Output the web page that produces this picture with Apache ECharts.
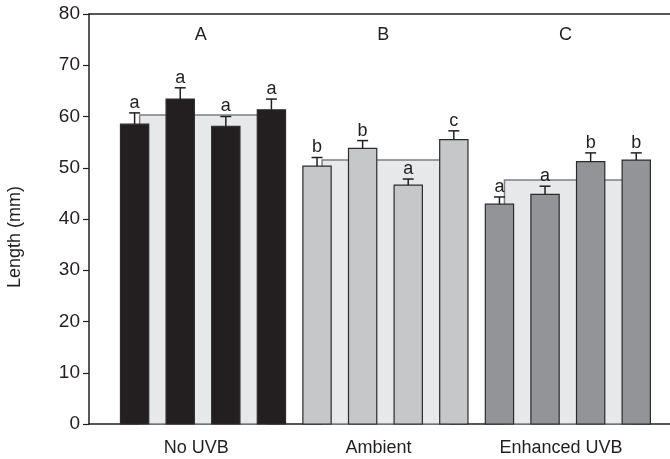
<!DOCTYPE html>
<html>
<head>
<meta charset="utf-8">
<script src="https://cdn.jsdelivr.net/npm/echarts@6/dist/echarts.min.js"></script>
<style>
  html, body { margin: 0; padding: 0; background: #ffffff; }
  #chart { width: 670px; height: 459px; }
</style>
</head>
<body>
<div id="chart"></div>
<script>
// Treatment groups and per-group summary
const groups = ['No UVB', 'Ambient', 'Enhanced UVB'];
const groupLetters = ['A', 'B', 'C'];
const groupMeans = [60.3, 51.5, 47.6];

// Four sub-treatments per group: mean length, standard error, significance letter
const lengthsNoUVB = [58.5, 63.4, 58.1, 61.3];
const lengthsAmbient = [50.3, 53.8, 46.6, 55.5];
const lengthsEnhanced = [42.9, 44.8, 51.2, 51.5];
const errorsNoUVB = [2.2, 2.2, 1.9, 2.1];
const errorsAmbient = [1.7, 1.5, 1.2, 1.7];
const errorsEnhanced = [1.4, 1.6, 1.7, 1.4];
const lettersNoUVB = ['a', 'a', 'a', 'a'];
const lettersAmbient = ['b', 'b', 'a', 'c'];
const lettersEnhanced = ['a', 'a', 'b', 'b'];

const yTicks = [0, 10, 20, 30, 40, 50, 60, 70, 80];

const lengths = [lengthsNoUVB, lengthsAmbient, lengthsEnhanced];
const errors = [errorsNoUVB, errorsAmbient, errorsEnhanced];
const letters = [lettersNoUVB, lettersAmbient, lettersEnhanced];
const barColors = ['#231f20', '#c6c7c9', '#929497'];

const FONT = 'Liberation Sans, Arial, sans-serif';
const PER_GROUP = 4;
const groupCenter = g => g * PER_GROUP + (PER_GROUP + 1) / 2;

// Bars laid out on a numeric x scale: slot k+1 for the k-th bar
const barData = [];
lengths.forEach((vals, g) => {
  vals.forEach((v, i) => {
    barData.push([g * PER_GROUP + i + 1, v, errors[g][i], g, letters[g][i]]);
  });
});
const meanData = groupMeans.map((m, g) => [groupCenter(g), m]);
const groupLetterData = groupLetters.map((t, g) => [groupCenter(g) - 0.05, 75.9, t]);
const labelPositions = groups.map((_, g) => groupCenter(g) - 0.15);

const chart = echarts.init(document.getElementById('chart'), null, { renderer: 'canvas' });

chart.setOption({
  animation: false,
  backgroundColor: '#ffffff',
  grid: { left: 89, right: 0, top: 14, bottom: 35 },
  xAxis: [
    {
      type: 'value',
      min: 0,
      max: 12.74,
      splitLine: { show: false },
      axisLine: { show: true, onZero: false, lineStyle: { color: '#231f20', width: 1.5 } },
      axisTick: { show: false },
      axisLabel: {
        customValues: labelPositions,
        formatter: v => {
          let best = 0;
          labelPositions.forEach((p, i) => { if (Math.abs(p - v) < Math.abs(labelPositions[best] - v)) best = i; });
          return groups[best];
        },
        margin: 15,
        color: '#231f20',
        fontFamily: FONT,
        fontSize: 18
      }
    },
    {
      type: 'value',
      position: 'top',
      min: 0,
      max: 12.74,
      splitLine: { show: false },
      axisLine: { show: true, onZero: false, lineStyle: { color: '#231f20', width: 1.5 } },
      axisTick: { show: false },
      axisLabel: { show: false }
    }
  ],
  yAxis: {
    type: 'value',
    min: 0,
    max: 80,
    interval: 10,
    splitLine: { show: false },
    axisLine: { show: true, lineStyle: { color: '#231f20', width: 1.5 } },
    axisTick: { show: true, inside: false, length: 6, lineStyle: { color: '#231f20', width: 1.2 } },
    axisLabel: {
      customValues: yTicks,
      margin: 9,
      color: '#231f20',
      fontFamily: FONT,
      fontSize: 19
    }
  },
  graphic: [
    {
      type: 'text',
      x: 15,
      y: 237,
      rotation: Math.PI / 2,
      style: {
        text: 'Length (mm)',
        x: 0, y: 0,
        align: 'center',
        verticalAlign: 'middle',
        fill: '#231f20',
        font: '18px ' + FONT
      }
    }
  ],
  series: [
    {
      // Wide background bar showing the group mean
      type: 'custom',
      z: 1,
      data: meanData,
      renderItem: (params, api) => {
        const cx = api.value(0);
        const m = api.value(1);
        const halfW = 1.39;
        const tl = api.coord([cx - halfW, m]);
        const br = api.coord([cx + halfW, 0]);
        return {
          type: 'rect',
          shape: { x: tl[0], y: tl[1], width: br[0] - tl[0], height: br[1] - tl[1] },
          style: { fill: '#e7e8e9', stroke: '#7d7f82', lineWidth: 1.5 }
        };
      }
    },
    {
      // Individual bars with standard-error whiskers and letters
      type: 'custom',
      z: 2,
      data: barData,
      renderItem: (params, api) => {
        const x = api.value(0);
        const v = api.value(1);
        const e = api.value(2);
        const g = api.value(3);
        const letter = barData[params.dataIndex][4];
        const w = api.size([0.62, 0])[0];
        const top = api.coord([x, v]);
        const base = api.coord([x, 0]);
        const cap = api.coord([x, v + e]);
        const capHalf = 5.5;
        return {
          type: 'group',
          children: [
            {
              type: 'rect',
              shape: { x: top[0] - w / 2, y: top[1], width: w, height: base[1] - top[1] },
              style: { fill: barColors[g], stroke: '#2b2b2b', lineWidth: 1.2 }
            },
            {
              type: 'line',
              shape: { x1: top[0], y1: top[1], x2: cap[0], y2: cap[1] },
              style: { stroke: '#231f20', lineWidth: 1.5 }
            },
            {
              type: 'line',
              shape: { x1: cap[0] - capHalf, y1: cap[1], x2: cap[0] + capHalf, y2: cap[1] },
              style: { stroke: '#231f20', lineWidth: 1.5 }
            },
            {
              type: 'text',
              style: {
                text: letter,
                x: cap[0],
                y: cap[1] - 1,
                align: 'center',
                verticalAlign: 'bottom',
                fill: '#231f20',
                font: '18px ' + FONT
              }
            }
          ]
        };
      }
    },
    {
      // Group significance letters along the top
      type: 'custom',
      z: 3,
      data: groupLetterData,
      renderItem: (params, api) => {
        const p = api.coord([api.value(0), api.value(1)]);
        return {
          type: 'text',
          style: {
            text: groupLetterData[params.dataIndex][2],
            x: p[0],
            y: p[1],
            align: 'center',
            verticalAlign: 'middle',
            fill: '#231f20',
            font: '18px ' + FONT
          }
        };
      }
    }
  ]
});
</script>
</body>
</html>
